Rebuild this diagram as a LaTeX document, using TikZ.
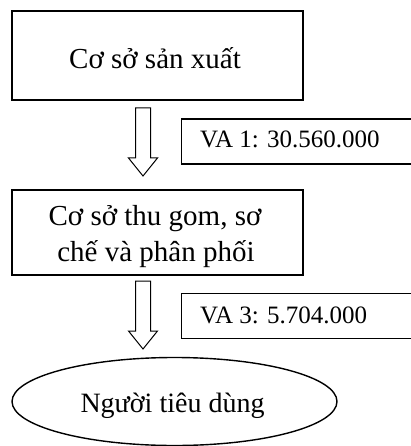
\documentclass[tikz,border=0pt]{standalone}
\usepackage{fontspec}
\setmainfont{Liberation Serif}
\usetikzlibrary{shapes.geometric}
\begin{document}
\begin{tikzpicture}[x=1pt,y=-1pt,
  stagebox/.style={draw, line width=1.7pt, inner sep=0pt, minimum width=291pt},
  valuebox/.style={draw, line width=1.3pt, inner sep=0pt, anchor=north west,
                   minimum width=260pt, minimum height=45pt},
  bigtext/.style={anchor=base, inner sep=0pt, font=\fontsize{29}{35}\selectfont},
  valtext/.style={anchor=base west, inner sep=0pt, font=\fontsize{25}{30}\selectfont},
  blockarrow/.pic={
    \draw[line width=1pt, miter limit=10]
      (-7.5,0) -- (7.5,0) -- (7.5,50) -- (14.5,50) -- (0,68)
      -- (-14.5,50) -- (-7.5,50) -- cycle;
  }]
\useasboundingbox (0,0) rectangle (411,446);

% production stage
\node[stagebox, minimum height=89pt] (prod) at (157.5,55.5) {};
\node[bigtext] (prodtxt) at (155,69) {Cơ sở sản xuất};

% first flow arrow and its value added
\pic (arrA) at (143,108) {blockarrow};
\node[valuebox] (vaA) at (180.5,118.5) {};
\node[valtext] (vaAtxt) at (200,148) {VA 1: 30.560.000};

% collection / distribution stage
\node[stagebox, minimum height=85pt] (coll) at (157.5,232.5) {};
\begin{scope}
  \clip (12,190) rectangle (303,268);
  \node[bigtext] (colltxtA) at (155,225) {Cơ sở thu gom, sơ};
  \node[bigtext] (colltxtB) at (156,261) {chế và phân phối};
\end{scope}

% second flow arrow and its value added
\pic (arrB) at (143,281) {blockarrow};
\node[valuebox] (vaB) at (180.5,292.5) {};
\node[valtext] (vaBtxt) at (200,323) {VA 3: 5.704.000};

% consumers
\node[draw, ellipse, line width=1.4pt, inner sep=0pt,
      minimum width=325pt, minimum height=88pt] (cons) at (174.5,401.5) {};
\begin{scope}
  \clip (12,357) rectangle (337,418);
  \node[bigtext, font=\fontsize{28}{34}\selectfont] (constxt) at (172.5,412) {Người tiêu dùng};
\end{scope}
\end{tikzpicture}
\end{document}
